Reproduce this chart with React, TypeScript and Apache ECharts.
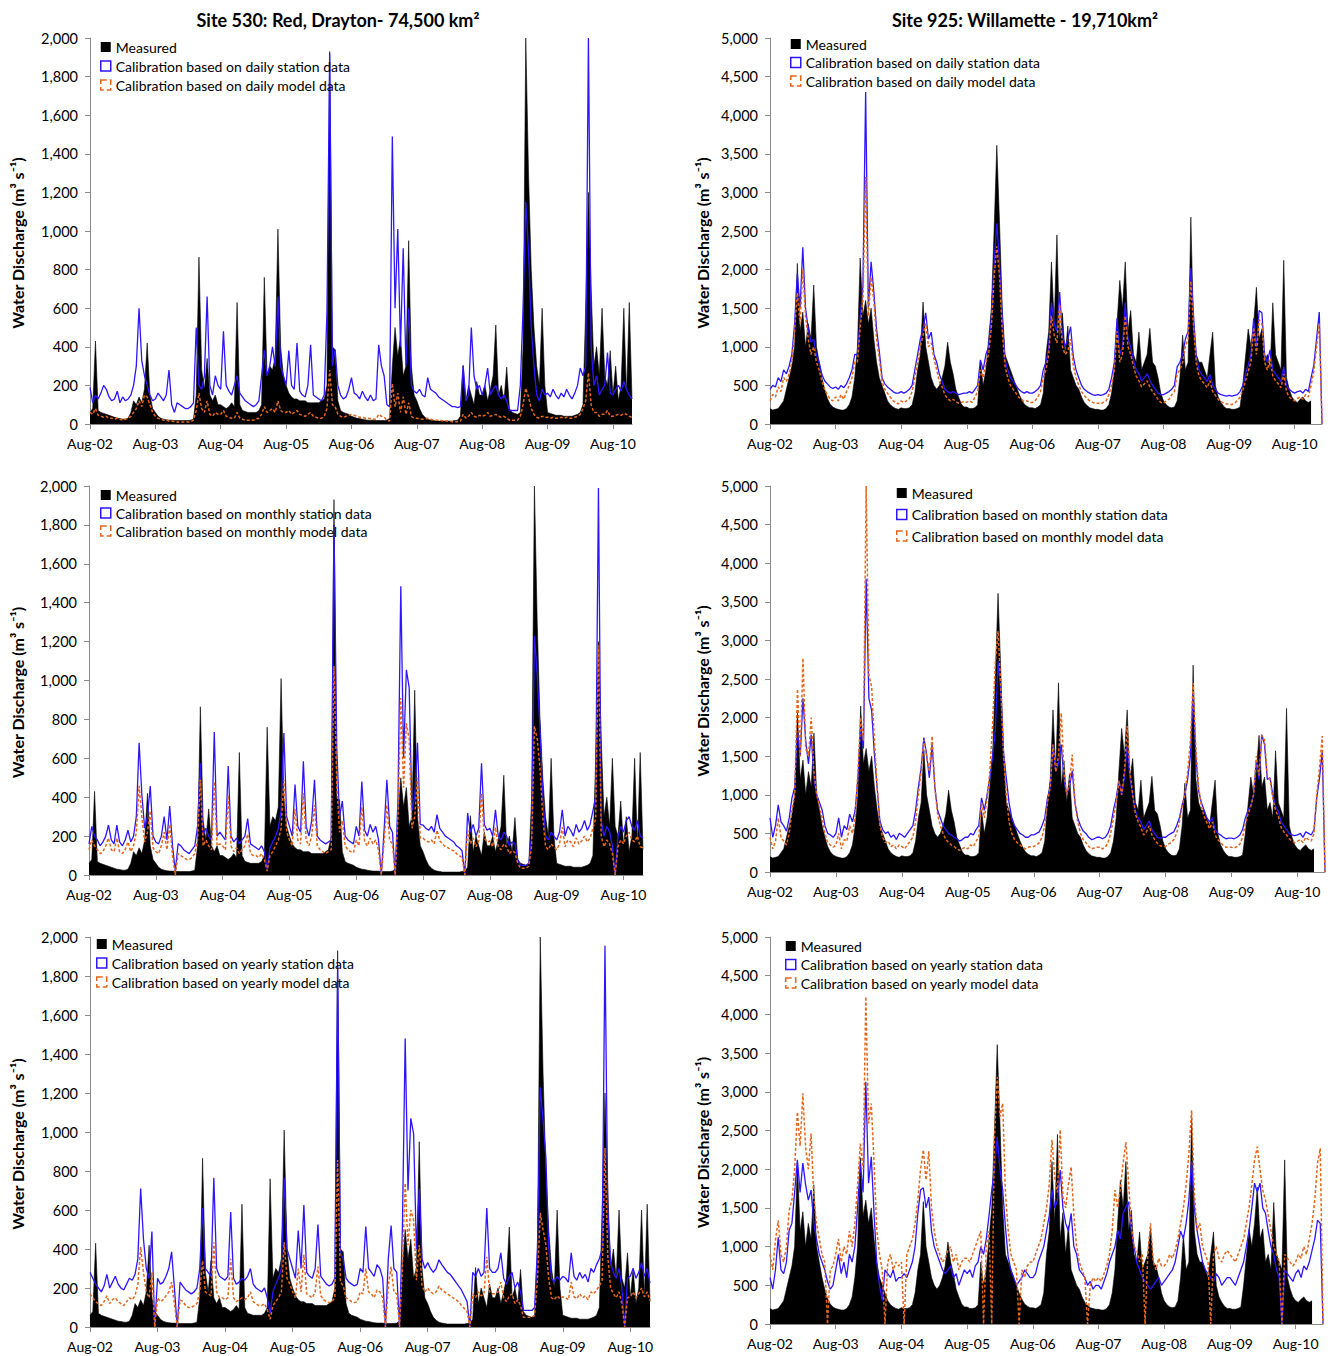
import React, { useEffect, useRef } from 'react';
import * as echarts from 'echarts';

// ---------- tick labels ----------
const YEAR_TICKS = ['Aug-02', 'Aug-03', 'Aug-04', 'Aug-05', 'Aug-06', 'Aug-07', 'Aug-08', 'Aug-09', 'Aug-10'];
const MONTH_ABBR = ['Jan', 'Feb', 'Mar', 'Apr', 'May', 'Jun', 'Jul', 'Aug', 'Sep', 'Oct', 'Nov', 'Dec'];

// ---------- Site 530: Red, Drayton (semi-monthly values from Aug-02) ----------
const RED_MEASURED = [
  60, 80, 430, 70, 60, 55, 50, 45, 40, 35, 30, 28, 25, 25, 30, 60, 120, 100, 140, 110, 180, 420, 150, 80,
  60, 40, 30, 25, 22, 20, 20, 18, 18, 18, 18, 18, 18, 20, 25, 150, 865, 280, 180, 340, 150, 120, 150, 100,
  100, 90, 80, 90, 110, 90, 630, 100, 70, 65, 60, 60, 60, 60, 70, 100, 760, 250, 300, 280, 350, 1010, 400, 250,
  200, 160, 140, 130, 130, 120, 120, 120, 110, 110, 110, 110, 110, 120, 130, 200, 1930, 400, 385, 120, 70, 60, 55, 50,
  40, 35, 30, 28, 25, 22, 20, 20, 20, 18, 18, 18, 18, 20, 30, 300, 500, 350, 450, 250, 300, 950, 300, 150,
  120, 80, 50, 35, 25, 20, 18, 15, 15, 15, 15, 15, 15, 15, 18, 20, 40, 305, 120, 200, 150, 100, 220, 150,
  150, 200, 120, 180, 250, 513, 150, 200, 120, 295, 80, 60, 55, 50, 60, 400, 2000, 1300, 800, 500, 300, 200, 600, 200,
  60, 55, 50, 45, 45, 45, 40, 40, 40, 40, 45, 50, 60, 100, 600, 1200, 700, 300, 400, 250, 600, 250, 200, 380,
  150, 300, 120, 200, 600, 150, 630, 130,
];
const RED_DAILY_STATION = [
  190, 110, 150, 130, 160, 200, 180, 140, 120, 130, 170, 110, 140, 120, 130, 150, 200, 300, 600, 330, 250, 200, 150, 120,
  130, 160, 140, 120, 150, 280, 100, 60, 110, 100, 90, 80, 80, 90, 110, 500, 200, 180, 250, 660, 200, 150, 250, 200,
  180, 480, 200, 170, 150, 200, 250, 160, 140, 120, 110, 100, 90, 100, 120, 250, 380, 250, 300, 400, 300, 660, 300, 250,
  200, 380, 200, 180, 420, 170, 150, 140, 200, 410, 150, 140, 130, 120, 150, 580, 1920, 300, 385, 200, 150, 130, 140, 180,
  240, 160, 150, 130, 170, 140, 120, 150, 120, 130, 410, 300, 250, 100, 90, 1490, 600, 1010, 400, 910, 300, 600, 200, 170,
  160, 180, 150, 140, 240, 180, 170, 160, 140, 130, 120, 110, 100, 90, 90, 85, 90, 300, 120, 150, 500, 250, 180, 200,
  150, 200, 290, 150, 180, 200, 150, 130, 150, 120, 70, 70, 70, 70, 200, 600, 1150, 900, 500, 300, 150, 120, 180, 150,
  160, 140, 180, 150, 130, 160, 140, 180, 150, 130, 160, 200, 290, 250, 300, 2000, 400, 200, 250, 150, 180, 200, 370, 160,
  150, 180, 200, 170, 220, 180, 150, 130,
];
const RED_DAILY_MODEL = [
  60, 50, 80, 45, 40, 35, 40, 30, 30, 25, 30, 25, 20, 25, 30, 40, 60, 80, 120, 90, 150, 140, 100, 60,
  40, 30, 25, 20, 20, 15, 15, 12, 10, 10, 10, 10, 10, 12, 20, 70, 160, 80, 60, 120, 50, 40, 60, 50,
  50, 70, 40, 35, 30, 30, 60, 30, 25, 20, 20, 20, 20, 25, 30, 50, 90, 60, 70, 80, 60, 120, 70, 60,
  60, 70, 50, 60, 70, 50, 45, 40, 50, 60, 40, 35, 30, 30, 40, 80, 280, 100, 90, 50, 40, 35, 40, 45,
  50, 45, 40, 35, 35, 30, 30, 28, 25, 25, 50, 40, 35, 20, 15, 210, 90, 160, 60, 140, 50, 110, 40, 30,
  30, 28, 25, 25, 30, 25, 22, 20, 20, 18, 15, 15, 15, 12, 12, 12, 15, 50, 30, 40, 60, 40, 35, 45,
  40, 45, 60, 40, 45, 50, 40, 35, 40, 30, 20, 20, 20, 20, 40, 100, 185, 140, 80, 50, 35, 30, 40, 35,
  35, 30, 35, 30, 30, 35, 30, 35, 30, 30, 35, 40, 50, 80, 120, 265, 100, 60, 60, 40, 50, 50, 70, 40,
  40, 45, 50, 45, 55, 50, 40, 35,
];
const RED_MONTHLY_STATION = [
  160, 250, 200, 180, 150, 170, 200, 257, 180, 160, 257, 170, 150, 180, 230, 170, 200, 300, 680, 410, 240, 300, 457, 200,
  170, 160, 200, 300, 180, 355, 150, 20, 160, 150, 130, 120, 110, 130, 150, 250, 575, 200, 240, 200, 180, 735, 200, 220,
  200, 180, 560, 200, 170, 190, 160, 180, 200, 290, 160, 150, 140, 130, 150, 120, 30, 140, 170, 200, 240, 330, 730, 300,
  250, 200, 465, 250, 220, 585, 250, 200, 280, 490, 200, 180, 170, 160, 170, 180, 1800, 650, 300, 380, 200, 180, 170, 160,
  250, 200, 480, 230, 200, 260, 220, 250, 180, 0, 230, 490, 250, 220, 0, 400, 1485, 600, 1055, 965, 330, 400, 680, 260,
  257, 240, 230, 250, 220, 310, 240, 220, 200, 190, 180, 170, 150, 140, 125, 0, 318, 220, 260, 200, 240, 575, 260, 230,
  240, 200, 335, 200, 180, 220, 200, 150, 170, 160, 80, 50, 50, 50, 60, 200, 1230, 1030, 755, 410, 200, 180, 220, 200,
  180, 220, 335, 200, 250, 230, 200, 260, 220, 240, 280, 230, 260, 330, 400, 1990, 280, 200, 250, 220, 150, 0, 200, 250,
  220, 280, 300, 250, 230, 280, 200, 190,
];
const RED_MONTHLY_MODEL = [
  130, 180, 150, 130, 110, 120, 150, 190, 130, 120, 190, 120, 110, 130, 170, 120, 150, 220, 458, 300, 170, 220, 330, 140,
  120, 110, 150, 220, 130, 260, 100, 0, 110, 100, 90, 80, 80, 90, 110, 180, 490, 150, 180, 150, 130, 480, 150, 160,
  150, 130, 410, 150, 120, 140, 110, 130, 150, 210, 110, 100, 100, 90, 110, 80, 20, 100, 120, 150, 180, 240, 490, 220,
  180, 150, 340, 180, 160, 420, 180, 150, 200, 360, 150, 130, 120, 110, 120, 130, 1075, 470, 220, 280, 150, 130, 120, 115,
  180, 150, 350, 170, 150, 190, 160, 180, 130, 0, 170, 360, 180, 160, 0, 300, 910, 450, 780, 700, 240, 300, 500, 190,
  190, 175, 170, 180, 160, 230, 175, 160, 145, 140, 130, 125, 110, 100, 90, 0, 230, 160, 190, 145, 175, 420, 190, 170,
  175, 145, 245, 145, 130, 160, 145, 110, 125, 115, 60, 35, 35, 35, 45, 150, 765, 700, 550, 300, 145, 130, 160, 145,
  130, 160, 245, 145, 180, 170, 145, 190, 160, 175, 200, 170, 190, 240, 290, 1180, 200, 145, 180, 160, 110, 0, 145, 180,
  160, 200, 220, 180, 170, 200, 145, 140,
];
const RED_YEARLY_STATION = [
  280, 250, 220, 200, 180, 210, 270, 200, 230, 260, 220, 200, 190, 220, 250, 240, 270, 350, 710, 450, 300, 250, 490, 0,
  250, 220, 230, 260, 300, 385, 200, 0, 230, 210, 190, 180, 170, 180, 200, 300, 610, 300, 280, 260, 765, 300, 260, 250,
  240, 260, 590, 250, 220, 230, 250, 240, 260, 300, 220, 200, 190, 180, 200, 150, 70, 180, 220, 250, 300, 765, 400, 350,
  300, 250, 495, 300, 625, 280, 260, 250, 300, 525, 260, 240, 220, 210, 220, 250, 1850, 380, 350, 250, 230, 220, 210, 220,
  300, 280, 515, 300, 280, 260, 320, 300, 250, 0, 350, 520, 300, 280, 0, 500, 1480, 700, 1070, 990, 400, 710, 350, 300,
  330, 300, 280, 300, 345, 320, 300, 280, 270, 250, 230, 210, 190, 160, 130, 0, 280, 260, 300, 260, 280, 610, 300, 280,
  280, 300, 380, 250, 220, 260, 280, 200, 230, 180, 85, 85, 85, 85, 100, 400, 1230, 1060, 870, 410, 250, 230, 260, 240,
  260, 250, 230, 380, 260, 240, 280, 250, 270, 230, 300, 280, 320, 350, 400, 1955, 600, 330, 280, 250, 300, 200, 0, 250,
  260, 300, 250, 280, 330, 260, 300, 225,
];
const RED_YEARLY_MODEL = [
  170, 150, 130, 120, 110, 130, 160, 120, 140, 150, 130, 120, 110, 130, 150, 140, 160, 220, 410, 280, 180, 150, 280, 0,
  150, 130, 140, 160, 180, 230, 120, 0, 140, 130, 110, 100, 100, 110, 120, 180, 340, 180, 170, 160, 435, 180, 150, 150,
  140, 150, 350, 150, 130, 140, 150, 140, 150, 180, 130, 120, 110, 110, 120, 90, 40, 110, 130, 150, 180, 435, 250, 220,
  180, 150, 300, 180, 370, 170, 160, 150, 180, 310, 160, 140, 130, 125, 130, 150, 856, 230, 210, 150, 140, 130, 125, 130,
  180, 170, 300, 180, 170, 150, 190, 180, 150, 0, 210, 310, 180, 170, 0, 300, 738, 420, 600, 550, 240, 420, 210, 180,
  200, 180, 170, 180, 210, 190, 180, 170, 160, 150, 140, 130, 110, 95, 80, 0, 170, 150, 180, 160, 170, 360, 180, 170,
  170, 180, 230, 150, 130, 160, 170, 120, 140, 110, 50, 50, 50, 50, 60, 240, 585, 500, 420, 250, 150, 140, 160, 145,
  155, 150, 140, 230, 155, 145, 170, 150, 160, 140, 180, 170, 190, 210, 240, 918, 360, 200, 170, 150, 180, 120, 0, 150,
  155, 180, 150, 170, 200, 155, 180, 135,
];

// ---------- Site 925: Willamette (semi-monthly values from Aug-02) ----------
const WIL_MEASURED = [
  200, 180, 190, 200, 250, 300, 450, 600, 750, 1000, 2080, 1200, 1450, 1000, 1300, 1100, 1800, 1000, 800, 600, 450, 330, 260, 220,
  200, 190, 180, 180, 200, 250, 350, 600, 1000, 2150, 1400, 1600, 1300, 1500, 1100, 800, 600, 500, 400, 300, 250, 220, 200, 190,
  210, 200, 200, 210, 250, 400, 700, 900, 1580, 1000, 800, 600, 500, 450, 500, 600, 750, 1060, 800, 650, 450, 350, 260, 220,
  220, 200, 200, 210, 250, 800, 500, 700, 1100, 1500, 2500, 3610, 2600, 1500, 900, 800, 700, 600, 500, 400, 320, 260, 230, 210,
  210, 200, 220, 250, 400, 900, 1200, 2100, 1300, 2450, 1100, 1440, 900, 1270, 700, 600, 500, 450, 350, 280, 240, 210, 200, 190,
  190, 180, 180, 200, 250, 400, 700, 1310, 1860, 1500, 2100, 1200, 1470, 900, 800, 1190, 700, 800, 900, 1240, 800, 750, 600, 400,
  300, 250, 220, 210, 220, 300, 600, 1150, 700, 800, 2680, 1200, 900, 800, 800, 700, 600, 900, 1190, 500, 350, 280, 230, 200,
  200, 190, 190, 200, 220, 500, 870, 1230, 1000, 1300, 1770, 1100, 1230, 800, 900, 700, 1570, 900, 800, 700, 2120, 600, 450, 350,
  300, 280, 320, 350, 300, 280, 300, null, null, null, null,
];
const WIL_DAILY_STATION = [
  450, 500, 480, 600, 550, 700, 650, 750, 900, 1300, 1950, 1500, 2290, 1500, 1230, 1060, 1100, 890, 800, 640, 560, 520, 480, 460,
  480, 450, 500, 470, 520, 600, 700, 900, 900, 1370, 1800, 4300, 1515, 2100, 1710, 1230, 940, 600, 520, 480, 450, 420, 400, 400,
  420, 400, 420, 450, 500, 700, 900, 1100, 1230, 1440, 1100, 1190, 900, 800, 640, 550, 450, 420, 400, 420, 400, 380, 390, 400,
  400, 420, 400, 450, 500, 830, 700, 900, 1000, 1370, 2080, 2600, 2080, 1370, 830, 700, 600, 550, 500, 450, 420, 400, 420, 400,
  400, 420, 450, 500, 700, 800, 1000, 1570, 1300, 1200, 1710, 1150, 1000, 1100, 1260, 870, 700, 600, 500, 450, 420, 400, 380, 370,
  380, 370, 380, 400, 450, 600, 800, 1370, 900, 1000, 1570, 1100, 1000, 830, 700, 650, 560, 600, 650, 570, 500, 450, 400, 380,
  380, 400, 420, 450, 500, 740, 800, 900, 1100, 1200, 2020, 1400, 870, 700, 640, 600, 550, 640, 500, 450, 400, 380, 370, 360,
  370, 360, 370, 380, 420, 500, 650, 760, 900, 1370, 1000, 1470, 1440, 900, 800, 960, 700, 650, 600, 550, 740, 500, 450, 420,
  400, 420, 430, 400, 450, 420, 600, 760, 1100, 1450, 0,
];
const WIL_DAILY_MODEL = [
  300, 380, 350, 480, 420, 600, 550, 650, 800, 1200, 1700, 1300, 2000, 1400, 1100, 900, 1000, 800, 700, 550, 450, 380, 320, 300,
  350, 300, 380, 320, 420, 500, 600, 800, 800, 1250, 1600, 3200, 1400, 1900, 1600, 1100, 850, 550, 450, 400, 350, 300, 280, 260,
  300, 280, 300, 330, 420, 600, 800, 1000, 1150, 1300, 1000, 1050, 850, 700, 550, 480, 380, 330, 300, 320, 290, 270, 280, 290,
  280, 300, 280, 350, 420, 700, 600, 800, 900, 1250, 1900, 2300, 1900, 1200, 750, 600, 500, 450, 400, 350, 320, 290, 300, 280,
  280, 300, 350, 420, 600, 700, 900, 1400, 1150, 1050, 1550, 1000, 900, 950, 1100, 750, 600, 500, 420, 370, 330, 300, 280, 270,
  270, 260, 280, 300, 380, 500, 700, 1200, 800, 900, 1400, 1000, 900, 750, 620, 560, 480, 520, 560, 480, 420, 370, 320, 280,
  270, 300, 320, 380, 420, 650, 700, 800, 1000, 1100, 1850, 1250, 780, 620, 560, 520, 470, 560, 420, 370, 320, 290, 270, 260,
  260, 250, 270, 300, 350, 430, 560, 680, 800, 1250, 900, 1350, 1300, 800, 700, 850, 620, 560, 520, 470, 650, 420, 350, 320,
  300, 330, 350, 320, 380, 350, 500, 680, 1000, 1300, 0,
];
const WIL_MONTHLY_STATION = [
  700, 450, 600, 870, 650, 600, 530, 700, 960, 1100, 1830, 1500, 2250, 1700, 1400, 1780, 1200, 1000, 900, 800, 600, 500, 480, 450,
  500, 700, 450, 600, 550, 750, 650, 800, 1220, 1870, 1600, 3800, 2250, 2090, 1520, 1090, 660, 550, 500, 520, 450, 480, 420, 500,
  480, 450, 500, 550, 600, 800, 1100, 1350, 1740, 1520, 1220, 1650, 1100, 800, 700, 600, 550, 500, 480, 450, 430, 400, 420, 450,
  450, 500, 480, 550, 600, 960, 800, 1000, 1220, 1500, 1830, 2730, 2340, 1560, 1220, 900, 700, 600, 550, 500, 480, 450, 450, 480,
  480, 500, 520, 600, 700, 960, 1100, 1650, 1300, 1400, 1650, 1200, 1000, 1100, 1310, 900, 700, 600, 530, 500, 450, 420, 430, 450,
  450, 430, 450, 500, 600, 800, 960, 1180, 1000, 1220, 1650, 1220, 1000, 790, 700, 650, 550, 600, 660, 550, 500, 450, 440, 450,
  450, 480, 500, 520, 600, 700, 870, 1000, 1200, 1500, 2340, 1500, 1050, 900, 800, 700, 650, 700, 550, 500, 480, 450, 430, 440,
  440, 430, 450, 480, 550, 700, 800, 870, 1000, 1440, 1200, 1780, 1650, 1200, 1220, 1000, 850, 790, 650, 600, 550, 500, 480, 470,
  480, 500, 450, 520, 500, 480, 550, 960, 1220, 1560, 0,
];
const WIL_MONTHLY_MODEL = [
  450, 300, 400, 700, 450, 400, 350, 500, 800, 1000, 2370, 1500, 2770, 1600, 1500, 2000, 1300, 1000, 850, 700, 500, 380, 350, 320,
  350, 500, 300, 420, 400, 600, 500, 700, 1300, 2000, 1700, 5000, 2550, 2400, 1700, 1100, 600, 450, 380, 400, 330, 350, 300, 350,
  330, 300, 350, 400, 450, 650, 1000, 1300, 1710, 1500, 1300, 1760, 1100, 750, 600, 500, 420, 380, 350, 330, 300, 280, 300, 320,
  300, 350, 330, 400, 450, 900, 700, 950, 1300, 1900, 2700, 3120, 2400, 1520, 1000, 650, 500, 420, 380, 350, 320, 300, 320, 330,
  330, 350, 380, 450, 600, 900, 1100, 1650, 1300, 1500, 2060, 1300, 1000, 1150, 1520, 900, 650, 500, 420, 380, 330, 300, 310, 320,
  320, 300, 320, 380, 500, 700, 900, 1180, 1000, 1300, 1890, 1300, 1000, 750, 650, 580, 480, 520, 600, 480, 420, 370, 340, 330,
  330, 360, 380, 420, 500, 650, 850, 1000, 1300, 1700, 2450, 1600, 1100, 850, 720, 640, 560, 650, 480, 420, 380, 340, 320, 320,
  320, 310, 330, 360, 450, 620, 750, 850, 1000, 1500, 1250, 1770, 1710, 1250, 1200, 950, 800, 720, 580, 520, 480, 430, 400, 380,
  400, 420, 380, 450, 420, 400, 500, 1000, 1350, 1760, 0,
];
const WIL_YEARLY_STATION = [
  600, 450, 700, 1120, 700, 650, 800, 1210, 1300, 1700, 2120, 1700, 2080, 1800, 1600, 1730, 1300, 1100, 900, 800, 700, 550, 450, 500,
  700, 900, 650, 800, 600, 900, 800, 1000, 1500, 2080, 1700, 3130, 1820, 2160, 1430, 790, 500, 300, 700, 650, 600, 700, 550, 600,
  600, 650, 600, 700, 800, 1000, 1430, 1730, 1760, 1500, 1640, 1200, 1000, 900, 800, 700, 650, 700, 750, 600, 650, 500, 600, 700,
  650, 700, 600, 750, 800, 1000, 900, 1100, 1400, 1730, 2000, 2420, 2000, 1730, 1250, 870, 700, 600, 500, 550, 600, 700, 650, 600,
  600, 650, 800, 900, 1000, 1200, 1400, 1730, 1500, 1600, 1990, 1500, 1300, 1200, 1430, 1000, 900, 700, 650, 600, 500, 550, 450, 500,
  500, 450, 550, 650, 800, 900, 1000, 1210, 1100, 1430, 1510, 1580, 1200, 1000, 790, 700, 600, 550, 500, 450, 500, 550, 600, 500,
  550, 600, 650, 700, 800, 1000, 1200, 1100, 1300, 1600, 2100, 1500, 1210, 1000, 800, 700, 650, 600, 550, 650, 600, 500, 550, 600,
  600, 550, 500, 600, 700, 800, 1000, 1210, 1500, 1820, 1700, 1820, 1500, 1430, 1200, 1000, 900, 700, 600, 0, 700, 650, 600, 550,
  650, 700, 600, 750, 700, 800, 950, 1100, 1340, 1300, 0,
];
const WIL_YEARLY_MODEL = [
  900, 700, 1085, 1340, 900, 800, 1000, 1470, 1600, 2000, 2740, 2300, 2980, 2290, 2000, 2460, 1640, 1300, 1100, 900, 800, 0, 700, 750,
  900, 1100, 800, 1000, 900, 1200, 1000, 1300, 1800, 2330, 2000, 4230, 2590, 2850, 2080, 1210, 900, 700, 0, 800, 900, 700, 800, 750,
  800, 0, 900, 1000, 1100, 1300, 1600, 2000, 2250, 1860, 2230, 1500, 1200, 1000, 900, 800, 850, 950, 1000, 800, 900, 700, 800, 850,
  850, 800, 900, 1000, 1100, 1200, 0, 1000, 1200, 0, 2400, 3190, 2680, 2850, 1690, 1210, 900, 800, 700, 0, 700, 600, 750, 800,
  800, 900, 1000, 1100, 1300, 1500, 1800, 2380, 1900, 1700, 2510, 1640, 1500, 1800, 2030, 1400, 1000, 800, 700, 600, 0, 500, 600, 550,
  600, 550, 650, 750, 900, 1200, 1730, 1500, 1760, 2080, 2350, 1820, 1270, 1000, 950, 800, 900, 0, 900, 1300, 800, 700, 850, 750,
  750, 800, 900, 850, 950, 1100, 1300, 1500, 1800, 2200, 2760, 1700, 1210, 1300, 1000, 900, 800, 0, 900, 1000, 850, 800, 900, 950,
  900, 850, 800, 900, 1000, 1100, 1300, 1510, 1800, 2120, 2290, 1990, 1730, 1600, 1400, 1210, 1000, 900, 800, 0, 900, 850, 800, 750,
  800, 900, 850, 1000, 900, 1100, 1300, 1600, 2080, 2270, 0,
];

// ---------- styling ----------
const FONT = 'Lato, "Open Sans", "DejaVu Sans", sans-serif';
const BLUE = '#2d16ff';
const ORANGE = '#e4661a';
const AXIS = '#8a8a8a';

const makeCats = (n: number) =>
  Array.from({ length: n }, (_, i) => {
    const m = Math.floor(i / 2);
    const cal = (7 + m) % 12;
    const yr = 2002 + Math.floor((7 + m) / 12);
    return `${MONTH_ABBR[cal]}-${String(yr % 100).padStart(2, '0')}${i % 2 === 0 ? '' : ' b'}`;
  });

const PANELS = [
  { res: 'daily', meas: RED_MEASURED, st: RED_DAILY_STATION, md: RED_DAILY_MODEL, left: 90, top: 38, width: 542, height: 386, yMax: 2000, yInt: 200, lgLeft: 100, lgTop: 39, lgGap: 3, nameGap: 65 },
  { res: 'daily', meas: WIL_MEASURED, st: WIL_DAILY_STATION, md: WIL_DAILY_MODEL, left: 770, top: 38, width: 552, height: 386, yMax: 5000, yInt: 500, lgLeft: 790, lgTop: 36, lgGap: 2.5, nameGap: 60 },
  { res: 'monthly', meas: RED_MEASURED, st: RED_MONTHLY_STATION, md: RED_MONTHLY_MODEL, left: 89, top: 486, width: 554, height: 389, yMax: 2000, yInt: 200, lgLeft: 100, lgTop: 487, lgGap: 2, nameGap: 64 },
  { res: 'monthly', meas: WIL_MEASURED, st: WIL_MONTHLY_STATION, md: WIL_MONTHLY_MODEL, left: 770, top: 486, width: 555, height: 386, yMax: 5000, yInt: 500, lgLeft: 896, lgTop: 485, lgGap: 5.5, nameGap: 60 },
  { res: 'yearly', meas: RED_MEASURED, st: RED_YEARLY_STATION, md: RED_YEARLY_MODEL, left: 90, top: 937, width: 560, height: 390, yMax: 2000, yInt: 200, lgLeft: 96, lgTop: 936, lgGap: 3, nameGap: 65 },
  { res: 'yearly', meas: WIL_MEASURED, st: WIL_YEARLY_STATION, md: WIL_YEARLY_MODEL, left: 770, top: 937, width: 553, height: 387, yMax: 5000, yInt: 500, lgLeft: 785, lgTop: 938, lgGap: 2.5, nameGap: 60 },
];

function buildOption() {
  const grid: any[] = [];
  const xAxis: any[] = [];
  const yAxis: any[] = [];
  const series: any[] = [];
  const legend: any[] = [];

  PANELS.forEach((p, k) => {
    const n = p.st.length;
    const stName = `Calibration based on ${p.res} station data`;
    const mdName = `Calibration based on ${p.res} model data`;
    grid.push({ left: p.left, top: p.top, width: p.width, height: p.height, containLabel: false });
    const yearTick = (i: number) => i % 24 === 0;
    xAxis.push({
      type: 'category',
      gridIndex: k,
      data: makeCats(n),
      boundaryGap: false,
      axisLine: { show: true, lineStyle: { color: AXIS, width: 1 } },
      axisTick: { show: true, interval: yearTick, length: 5, inside: false, lineStyle: { color: AXIS } },
      axisLabel: {
        interval: yearTick,
        formatter: (_v: string, i: number) => (i % 24 === 0 ? YEAR_TICKS[i / 24] ?? '' : ''),
        color: '#000',
        fontSize: 14,
        fontFamily: FONT,
        margin: 12,
      },
      splitLine: { show: false },
    });
    yAxis.push({
      type: 'value',
      gridIndex: k,
      min: 0,
      max: p.yMax,
      interval: p.yInt,
      name: 'Water Discharge (m³ s⁻¹)',
      nameLocation: 'middle',
      nameRotate: 90,
      nameGap: p.nameGap,
      nameTextStyle: { color: '#000', fontSize: 16, fontWeight: 'bold', fontFamily: FONT, padding: [0, 24, 0, 0] },
      axisLine: { show: true, lineStyle: { color: AXIS, width: 1 } },
      axisTick: { show: true, length: 5, lineStyle: { color: AXIS } },
      axisLabel: {
        color: '#000',
        fontSize: 14.5,
        fontFamily: FONT,
        margin: 12,
        formatter: (v: number) => v.toLocaleString('en-US'),
      },
      splitLine: { show: false },
    });
    series.push(
      {
        type: 'line',
        name: 'Measured',
        xAxisIndex: k,
        yAxisIndex: k,
        data: p.meas,
        symbol: 'none',
        silent: true,
        z: 1,
        lineStyle: { color: '#000', width: 0.6 },
        itemStyle: { color: '#000' },
        areaStyle: { color: '#000', opacity: 1 },
      },
      {
        type: 'line',
        name: stName,
        xAxisIndex: k,
        yAxisIndex: k,
        data: p.st,
        symbol: 'none',
        silent: true,
        z: 2,
        lineStyle: { color: BLUE, width: 1.3 },
        itemStyle: { color: BLUE },
      },
      {
        type: 'line',
        name: mdName,
        xAxisIndex: k,
        yAxisIndex: k,
        data: p.md,
        symbol: 'none',
        silent: true,
        z: 3,
        lineStyle: { color: ORANGE, width: 1.5, type: [3, 2] },
        itemStyle: { color: ORANGE },
      }
    );
    legend.push({
      orient: 'vertical',
      left: p.lgLeft,
      top: p.lgTop,
      padding: 0,
      itemWidth: 10,
      itemHeight: 10,
      itemGap: p.lgGap,
      icon: 'rect',
      selectedMode: false,
      textStyle: { color: '#000', fontSize: 14, fontFamily: FONT, lineHeight: 16 },
      data: [
        { name: 'Measured', itemStyle: { color: '#000', borderWidth: 0 } },
        { name: stName, itemStyle: { color: '#fff', borderColor: BLUE, borderWidth: 1.5 } },
        { name: mdName, itemStyle: { color: '#fff', borderColor: ORANGE, borderWidth: 1.5, borderType: 'dashed' } },
      ],
    });
  });

  return {
    animation: false,
    backgroundColor: '#fff',
    textStyle: { fontFamily: FONT },
    grid,
    xAxis,
    yAxis,
    series,
    legend,
    graphic: [
      {
        type: 'text',
        x: 338,
        y: 20,
        style: { text: 'Site 530: Red, Drayton- 74,500 km²', font: `bold 18px ${FONT}`, fill: '#000', textAlign: 'center', textVerticalAlign: 'middle' },
      },
      {
        type: 'text',
        x: 1025,
        y: 20,
        style: { text: 'Site 925: Willamette - 19,710km²', font: `bold 18px ${FONT}`, fill: '#000', textAlign: 'center', textVerticalAlign: 'middle' },
      },
    ],
  };
}

export default function App() {
  const ref = useRef<HTMLDivElement>(null);
  useEffect(() => {
    document.body.style.margin = '0';
    if (!ref.current) return;
    const chart = echarts.init(ref.current, undefined, { renderer: 'svg', width: 1334, height: 1356 });
    chart.setOption(buildOption() as any);
    return () => chart.dispose();
  }, []);
  return <div ref={ref} style={{ width: 1334, height: 1356 }} />;
}
